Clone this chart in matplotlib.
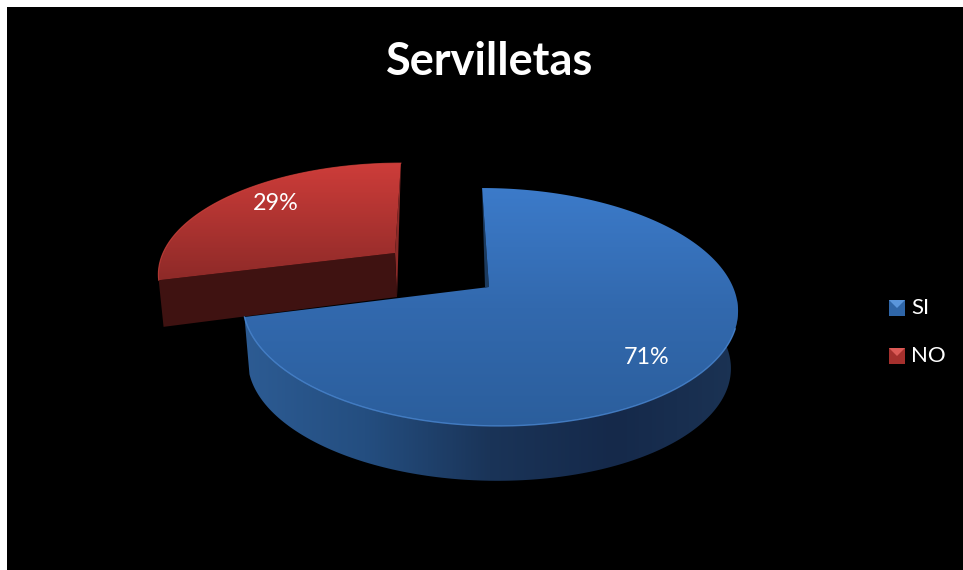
#!/usr/bin/env python
# -*-coding:Utf-8 -*

import numpy as np
import matplotlib
matplotlib.use("Agg")
import matplotlib.pyplot as plt
from matplotlib.colors import LinearSegmentedColormap
from matplotlib.patches import Polygon, Rectangle

# Data
title = "Servilletas"
labels = ["SI", "NO"]
values = [71, 29]

# Share of the circle taken by the first slice, clockwise from the top
cut = 360.0 * values[0] / sum(values)

plt.rcParams['font.family'] = ['Lato', 'DejaVu Sans']

fig = plt.figure(figsize=(9.63, 5.70), dpi=100, facecolor='white')
ax = fig.add_axes([0, 0, 1, 1])
ax.set_axis_off()
ax.add_patch(Rectangle((7, 7), 960, 570, facecolor='black', edgecolor='none', zorder=0))


# Circle angle (degrees, clockwise from top) to screen position, with perspective
def project(theta, center, X, Y, k=0.168, shear=0.0):
    t = np.radians(theta)
    u, v = np.sin(t), np.cos(t)
    y = -Y * v / (1 + k * v)
    x = X * u / (1 + k * v) + shear * y
    return np.column_stack([center[0] + x, center[1] + y])


def arc(t0, t1, *args, **kwargs):
    return project(np.linspace(t0, t1, 200), *args, **kwargs)


# Fill a polygon with a gradient running along x or y
def fill_gradient(points, colors, box, direction, zorder):
    cmap = LinearSegmentedColormap.from_list("grad", colors)
    ramp = np.linspace(0, 1, 256)
    ramp = ramp[np.newaxis, :] if direction == 'x' else ramp[:, np.newaxis]
    im = ax.imshow(ramp, cmap=cmap, extent=box, aspect='auto', origin='upper',
                   vmin=0, vmax=1, zorder=zorder, interpolation='bilinear')
    clip = Polygon(points, closed=True, transform=ax.transData)
    im.set_clip_path(clip)


# NO slice, pulled out of the pie
c_top = (395, 253)
c_low = (397, 297)
p_top = dict(center=c_top, X=232, Y=105, shear=-0.066)
p_low = dict(center=c_low, X=229, Y=115, shear=-0.066)

outer = arc(cut, 360, **p_top)
start = outer[0]
end = outer[-1]
low_start = project(cut, **p_low)[0]

ax.add_patch(Polygon([end, c_top, c_low], closed=True, facecolor='#8a2a28',
                     edgecolor='none', zorder=1))
ax.add_patch(Polygon([start, c_top, c_low, low_start], closed=True, facecolor='#3f1211',
                     edgecolor='none', zorder=1))
fill_gradient(np.vstack([outer, [c_top]]), ['#cf3d3a', '#8e2a28'],
              (150, 405, 280, 160), 'y', 2)
ax.plot(outer[:, 0], outer[:, 1], color='#d9463f', lw=0.8, alpha=0.7, zorder=3)

# SI slice
b_top = (489, 287)
b_low = (488, 345)
p_top = dict(center=b_top, X=244, Y=115.6, shear=0.07)
p_low = dict(center=b_low, X=238, Y=113, shear=0.07)

outer = arc(0, cut, **p_top)
wall = np.vstack([arc(45, cut, **p_top), arc(45, cut, **p_low)[::-1]])
fill_gradient(wall, ['#2d5c94', '#244e80', '#1a3458', '#15294a', '#1b3354'],
              (240, 740, 490, 300), 'x', 4)
sliver = [outer[0], (485, 287), b_top]
ax.add_patch(Polygon(sliver, closed=True, facecolor='#1b3a5e', edgecolor='none', zorder=4))
fill_gradient(np.vstack([outer, [b_top]]), ['#3c7bca', '#3269ae', '#2b5e9c'],
              (235, 745, 430, 185), 'y', 5)
rim = arc(110, cut, **p_top)
ax.plot(rim[:, 0], rim[:, 1], color='#4c8ad6', lw=1.0, alpha=0.8, zorder=6)

# Title and value labels
ax.text(489.5, 62, title, color='white', fontsize=32.5, fontweight='bold',
        ha='center', va='center', zorder=8)
ax.text(647, 357, "%d%%" % values[0], color='white', fontsize=16.8,
        ha='center', va='center', zorder=8)
ax.text(276, 204, "%d%%" % values[1], color='white', fontsize=16.8,
        ha='center', va='center', zorder=8)

# Legend
legend_y = [308, 356]
legend_colors = [('#2f66a8', '#5a96dc'), ('#a5302d', '#dc5a56')]
for name, y, (mid, light) in zip(labels, legend_y, legend_colors):
    ax.add_patch(Rectangle((889, y - 8), 16, 16, facecolor=mid, edgecolor='none', zorder=8))
    ax.add_patch(Polygon([(889, y - 8), (905, y - 8), (897, y)], closed=True,
                         facecolor=light, edgecolor='none', zorder=9))
    ax.text(911, y, name, color='white', fontsize=16, ha='left', va='center', zorder=9)

ax.set_xlim(0, 963)
ax.set_ylim(570, 0)

fig.savefig("out.png", dpi=100, facecolor=fig.get_facecolor())
